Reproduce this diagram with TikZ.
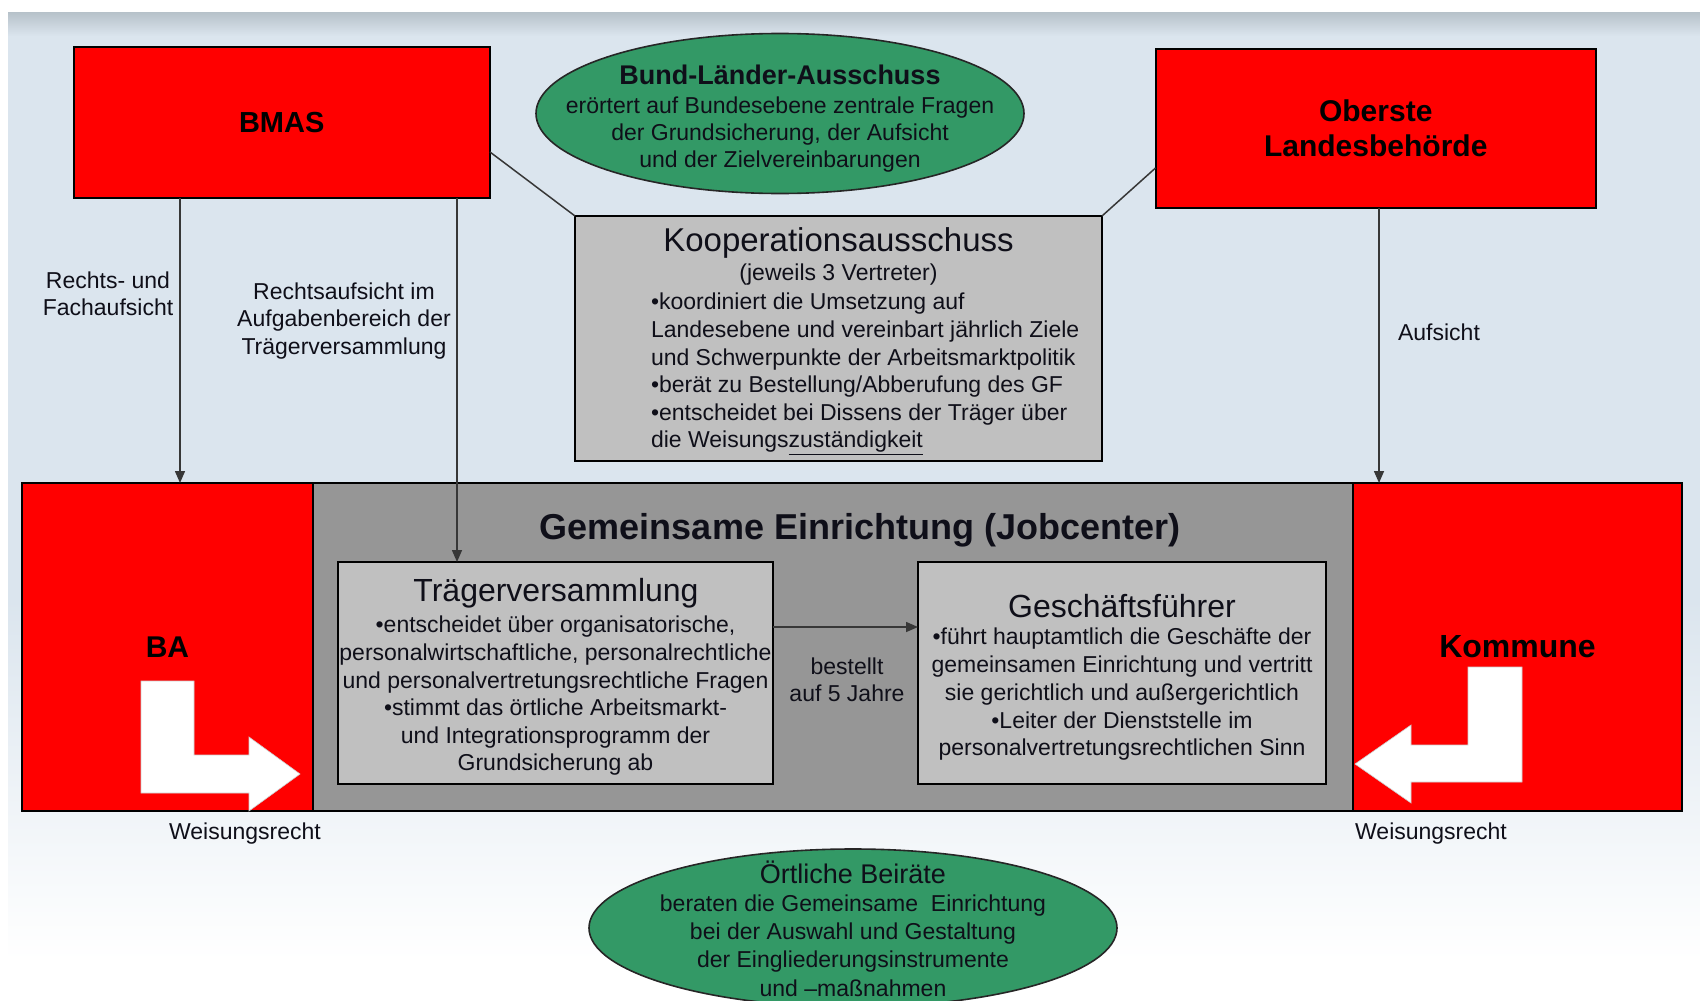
\documentclass[tikz,border=0pt]{standalone}
\usepackage{fontspec}
\setmainfont{Liberation Sans}
\usetikzlibrary{arrows.meta,shapes.geometric,calc}

\definecolor{bgblue}{RGB}{219,229,238}
\definecolor{bandgray}{RGB}{182,193,201}
\definecolor{redfill}{RGB}{255,0,0}
\definecolor{greenfill}{RGB}{51,153,102}
\definecolor{lgray}{RGB}{192,192,192}
\definecolor{dgray}{RGB}{150,150,150}
\definecolor{linec}{RGB}{55,55,55}
\definecolor{txtc}{RGB}{15,15,25}

\newcommand{\fsz}[2]{\fontsize{#1}{#2}\selectfont}

\begin{document}
\begin{tikzpicture}[x=1pt,y=-1pt,
  box/.style={draw=black, line width=2pt, inner sep=0pt, outer sep=0pt},
  redbox/.style={box, fill=redfill},
  graybox/.style={box, fill=lgray},
  ellbox/.style={ellipse, draw=black!85, line width=1.6pt, fill=greenfill, inner sep=0pt, outer sep=0pt},
  txt/.style={inner sep=0pt, outer sep=0pt, align=center, text=txtc},
  lbl/.style={txt, font=\fsz{23}{27.4}},
  arr/.style={draw=linec, line width=1.5pt, -{Triangle[length=12pt,width=10pt]}},
  conn/.style={draw=linec, line width=1.5pt},
  warrow/.style={fill=white, draw=white!80!black, line width=0.6pt},
]
\useasboundingbox (0,0) rectangle (1700,1001);
% background
\fill[white] (0,0) rectangle (1700,1001);
\shade[top color=bandgray, bottom color=bgblue] (8,12) rectangle (1700,36);
\fill[bgblue] (8,36) rectangle (1700,600);
\shade[top color=bgblue, bottom color=white] (8,600) rectangle (1700,960);

% coordinates for connector columns / rows
\coordinate (xa) at (180,0);
\coordinate (xb) at (457,0);
\coordinate (xc) at (1379,0);
\coordinate (yb) at (0,627);
\coordinate (yl) at (0,152);
\coordinate (yr) at (0,168);

% Gemeinsame Einrichtung
\node[box, fill=dgray, minimum width=1660pt, minimum height=328pt] (ge) at (852,647) {};
\node[redbox, minimum width=291pt, minimum height=328pt] (ba) at (167.5,647) {\fsz{30}{36}\bfseries BA};
\node[redbox, minimum width=329pt, minimum height=328pt] (kom) at (1517.5,647) {\fsz{32}{38}\bfseries Kommune};

% white L arrows
\path[warrow] (141,681) -- (194,681) -- (194,755) -- (249,755) -- (249,737) -- (300,774) -- (249,811) -- (249,793) -- (141,793) -- cycle;
\path[warrow] (1468,667) -- (1522,667) -- (1522,782) -- (1411,782) -- (1411,803) -- (1355,764) -- (1411,725) -- (1411,745) -- (1468,745) -- cycle;

\node[txt, font=\fsz{36}{42}\bfseries] (get) at (860,530) {Gemeinsame Einrichtung (Jobcenter)};

% Traegerversammlung
\node[graybox, minimum width=435pt, minimum height=222pt] (tv) at (555.5,673) {};
\node[txt, font=\fsz{32}{38}] (tvt) at (556,593) {Trägerversammlung};
\node[lbl, font=\fsz{23}{27.6}] (tvb) at (555.5,696) {•entscheidet über organisatorische,\\personalwirtschaftliche, personalrechtliche\\und personalvertretungsrechtliche Fragen\\•stimmt das örtliche Arbeitsmarkt-\\und Integrationsprogramm der\\Grundsicherung ab};

% Geschaeftsfuehrer
\node[graybox, minimum width=408pt, minimum height=222pt] (gf) at (1122,673) {};
\node[txt, font=\fsz{32}{38}] (gft) at (1122,606) {Geschäftsführer};
\node[lbl, font=\fsz{23}{27.75}] (gfb) at (1122,694.4) {•führt hauptamtlich die Geschäfte der\\gemeinsamen Einrichtung und vertritt\\sie gerichtlich und außergerichtlich\\•Leiter der Dienststelle im\\personalvertretungsrechtlichen Sinn};

\node[lbl, font=\fsz{23}{27}] (best) at (847,679.5) {bestellt\\auf 5 Jahre};

% top boxes
\node[redbox, minimum width=416.5pt, minimum height=151pt, font=\fsz{29}{35}\bfseries] (bmas) at (281.75,122.5) {BMAS};
\node[redbox, minimum width=440.5pt, minimum height=159pt, align=center, font=\fsz{30}{35}\bfseries] (olb) at (1375.75,128.5) {Oberste\\Landesbehörde};

% Kooperationsausschuss
\node[graybox, minimum width=527pt, minimum height=245pt] (koop) at (838.5,338.5) {};
\node[txt, font=\fsz{33}{40}] (koopt) at (838.5,243) {Kooperationsausschuss};
\node[lbl] (koops) at (838.5,275) {(jeweils 3 Vertreter)};
\node[lbl, align=left, anchor=west, font=\fsz{23}{27.6}] (koopb) at (651,374) {•koordiniert die Umsetzung auf\\Landesebene und vereinbart jährlich Ziele\\und Schwerpunkte der Arbeitsmarktpolitik\\•berät zu Bestellung/Abberufung des GF\\•entscheidet bei Dissens der Träger über\\die Weisungs\underline{zuständigkeit}};

% ellipses
\node[ellbox, minimum width=488pt, minimum height=160pt] (bla) at (780,113.5) {};
\node[txt, font=\fsz{27}{32}\bfseries] (blat) at (780,75) {Bund-Länder-Ausschuss};
\node[lbl, font=\fsz{23}{26.6}] (blab) at (780,134.5) {erörtert auf Bundesebene zentrale Fragen\\der Grundsicherung, der Aufsicht\\und der Zielvereinbarungen};

\node[ellbox, minimum width=528pt, minimum height=158pt] (ob) at (853,928) {};
\node[txt, font=\fsz{27}{32}] (obt) at (853,872) {Örtliche Beiräte};
\node[lbl, font=\fsz{23}{28.3}] (obb) at (853,945.5) {beraten die Gemeinsame~ Einrichtung\\bei der Auswahl und Gestaltung\\der Eingliederungsinstrumente\\und –maßnahmen};

% connectors
\draw[conn] (bmas.east |- yl) -- (koop.north west);
\draw[conn] (olb.west |- yr) -- (koop.north east);
\draw[arr] (bmas.south -| xa) -- (ba.north -| xa);
\draw[arr] (bmas.south -| xb) -- (tv.north -| xb);
\draw[arr] (olb.south -| xc) -- (kom.north -| xc);
\draw[arr] (tv.east |- yb) -- (gf.west |- yb);

% labels
\node[lbl] (l1) at (108,293.5) {Rechts- und\\Fachaufsicht};
\node[lbl] (l2) at (344,321) {Rechtsaufsicht im\\Aufgabenbereich der\\Trägerversammlung};
\node[lbl] (l3) at (1439,332) {Aufsicht};
\node[lbl] (w1) at (245,834) {Weisungsrecht};
\node[lbl] (w2) at (1431,834) {Weisungsrecht};
\end{tikzpicture}
\end{document}
